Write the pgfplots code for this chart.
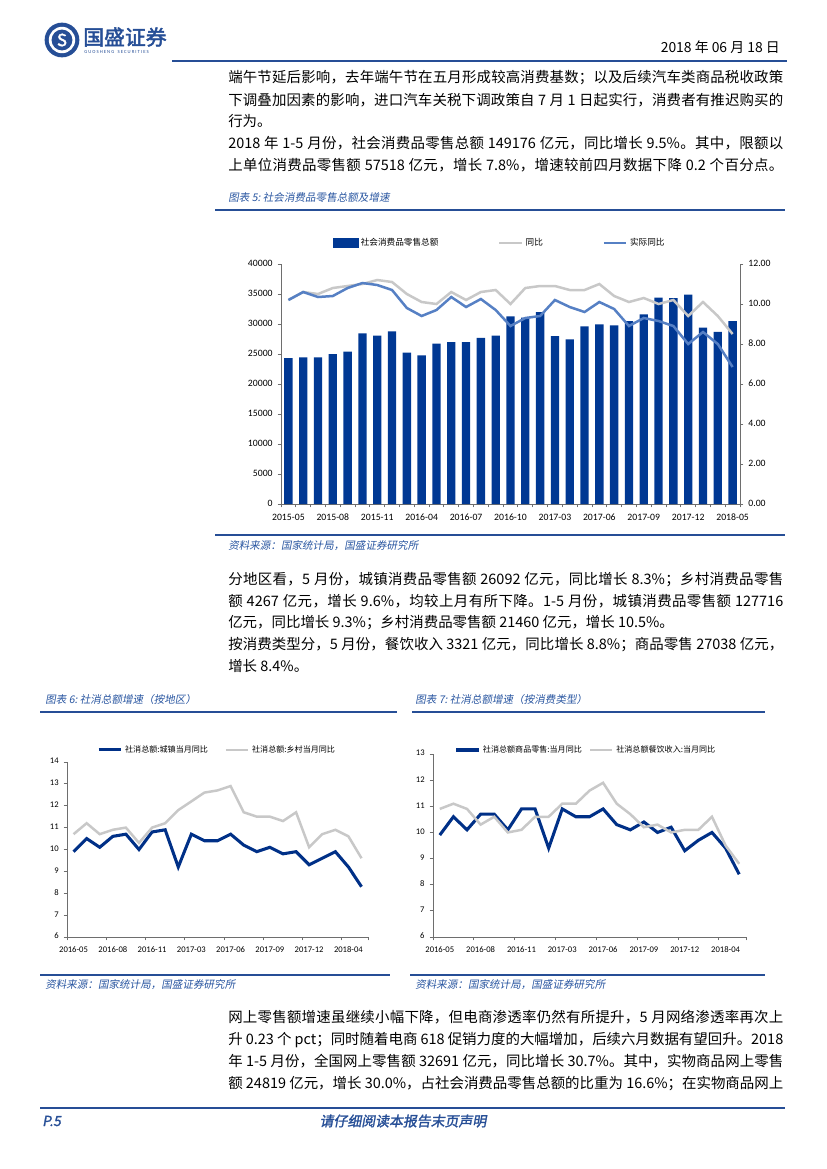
\documentclass[border=0pt]{standalone}
\usepackage{fontspec}
\setmainfont{Noto Sans CJK SC}
\newfontfamily\numfont{Carlito}
\newfontfamily\kai[FakeSlant=0.18]{Noto Sans CJK SC}
\newfontfamily\kaib[FakeSlant=0.18,FakeBold=1.6]{Noto Sans CJK SC}
\newfontfamily\logofont[FakeBold=2.2]{Noto Sans CJK SC}
\usepackage{pgfplots}
\pgfplotsset{compat=1.18}

% a little stretchable glue between CJK characters, for justified lines
\newcount\cc
\cc="4E00 \loop \XeTeXcharclass\cc=1 \advance\cc by 1 \ifnum\cc<"A000 \repeat
\cc="3000 \loop \XeTeXcharclass\cc=3 \advance\cc by 1 \ifnum\cc<"3040 \repeat
\cc="FF00 \loop \XeTeXcharclass\cc=3 \advance\cc by 1 \ifnum\cc<"FF60 \repeat
\XeTeXinterchartokenstate=1
\newcommand\cjkglue{\hskip0pt plus 0.6pt\relax}
\XeTeXinterchartoks 1 1 = {\cjkglue}
\XeTeXinterchartoks 1 3 = {\cjkglue}
\XeTeXinterchartoks 3 1 = {\cjkglue}
\XeTeXinterchartoks 0 1 = {\cjkglue}
\XeTeXinterchartoks 1 0 = {\cjkglue}
\XeTeXinterchartoks 3 0 = {\cjkglue}
\XeTeXinterchartoks 0 3 = {\cjkglue}

\definecolor{bardark}{RGB}{0,56,147}
\definecolor{lgrey}{RGB}{200,200,200}
\definecolor{realblue}{RGB}{86,128,196}
\definecolor{navy}{RGB}{0,48,135}
\definecolor{rule}{RGB}{38,78,150}
\definecolor{capt}{RGB}{40,85,160}
\definecolor{axgrey}{RGB}{110,110,110}

\newcommand\bodyf{\fontsize{10.4}{12}\selectfont}
\newcommand\fline[2]{\node[anchor=base west,inner sep=0pt] at (228,#1+5) {\bodyf\hbox to 399.5pt{#2}};}
\newcommand\lline[2]{\node[anchor=base west,inner sep=0pt] at (228,#1+5) {\bodyf #2};}
\newcommand\captn[3]{\node[anchor=base west,inner sep=0pt,text=capt] at (#1,#2+3.5) {\kai\fontsize{7.6}{8}\selectfont #3};}

\pgfplotsset{
  pg/.style={scale only axis, clip=false, anchor=south west,
    axis line style={axgrey,line width=0.6pt},
    every tick/.style={axgrey,line width=0.6pt},
    tick align=outside, major tick length=2.5pt,
    tick label style={font=\numfont\fontsize{7}{8}\selectfont},
    typeset ticklabels with strut,
    scaled ticks=false,
    /pgf/number format/assume math mode=true,
    /pgf/number format/1000 sep={},
    legend style={draw=none, fill=none, font=\fontsize{6.2}{7}\selectfont,
      inner sep=0pt, outer sep=0pt},
    legend cell align=left,
    legend image code/.code={\draw[##1] (0pt,0pt) -- (16pt,0pt);},
  },
}

\begin{document}
\begin{tikzpicture}[x=0.7198pt,y=-0.7198pt]
\useasboundingbox (0,0) rectangle (827,1169);

% header
\fill[rule] (62,40) circle (12.5pt);
\fill[white] (62,40) circle (9.5pt);
\fill[rule] (62,40) circle (7.5pt);
\node[white,inner sep=0pt] at (62,40) {\logofont\fontsize{12}{12}\selectfont S};
\node[anchor=west,inner sep=0pt,text=rule] at (83,37) {\logofont\fontsize{15}{15}\selectfont 国盛证券};
\node[anchor=west,inner sep=0pt,text=rule] at (84,52) {\numfont\fontsize{3.4}{4}\selectfont G U O S H E N G \ \ S E C U R I T I E S};
\node[anchor=east,inner sep=0pt] at (780,47) {\fontsize{10}{11}\selectfont 2018 年 06 月 18 日};
\draw[rule,line width=1.2pt] (172,61) -- (787,61);

% text
\fline{77}{端午节延后影响，去年端午节在五月形成较高消费基数；以及后续汽车类商品税收政策}
\fline{100}{下调叠加因素的影响，进口汽车关税下调政策自 7 月 1 日起实行，消费者有推迟购买的}
\lline{121}{行为。}
\fline{143}{2018 年 1-5 月份，社会消费品零售总额 149176 亿元，同比增长 9.5\%。其中，限额以}
\fline{165}{上单位消费品零售额 57518 亿元，增长 7.8\%，增速较前四月数据下降 0.2 个百分点。}

% figure 5
\captn{228}{198}{图表 5:\ 社会消费品零售总额及增速}
\draw[rule,line width=1.1pt] (215,210) -- (785,210);

\begin{scope}[x=1pt,y=1pt]
\begin{axis}[pg, at={(202.26pt,-362.78pt)}, width=330.4pt, height=172.75pt,
  xmin=-0.5, xmax=30.5, ymin=0, ymax=40000, ytick={0,5000,...,40000},
  axis x line*=bottom, axis y line*=left,
  xtick={-0.5,0.5,...,30.5}, xticklabels={},
  extra x ticks={0,3,...,30},
  extra x tick labels={2015-05,2015-08,2015-11,2016-04,2016-07,2016-10,2017-03,2017-06,2017-09,2017-12,2018-05},
  extra x tick style={tick style={draw=none}}]
\addplot[ybar, bar width=6pt, fill=bardark, draw=none]
  table[row sep=\\, x expr=\coordindex, y=v] {v\\
  24300\\ 24450\\ 24450\\ 25000\\ 25400\\ 28450\\ 28050\\ 28780\\ 25220\\ 24780\\
  26720\\ 27000\\ 27000\\ 27670\\ 28050\\ 31280\\ 31060\\ 32000\\ 28000\\ 27440\\
  29600\\ 29950\\ 29780\\ 30500\\ 31600\\ 34400\\ 34300\\ 34900\\ 29400\\ 28700\\
  30500\\};
\end{axis}

\begin{axis}[pg, at={(202.26pt,-362.78pt)}, width=330.4pt, height=172.75pt,
  xmin=-0.5, xmax=30.5, ymin=0, ymax=12, ytick={0,2,...,12},
  axis x line=none, axis y line*=right,
  yticklabel style={/pgf/number format/.cd,fixed,fixed zerofill,precision=2},
  legend columns=3,
  legend style={at={(0.477,1.0875)}, anchor=center,
    /tikz/every even column/.append style={column sep=41pt}}]
\addlegendimage{legend image code/.code={\fill[bardark] (0pt,-3.2pt) rectangle (18pt,3.2pt);}}
\addlegendentry{社会消费品零售总额}
\addplot[lgrey, line width=1.8pt]
  table[row sep=\\, x expr=\coordindex, y=v] {v\\
  10.2\\ 10.6\\ 10.5\\ 10.8\\ 10.9\\ 11.0\\ 11.2\\ 11.1\\ 10.5\\ 10.1\\
  10.0\\ 10.6\\ 10.2\\ 10.6\\ 10.7\\ 10.0\\ 10.8\\ 10.9\\ 10.9\\ 10.7\\
  10.7\\ 11.0\\ 10.4\\ 10.1\\ 10.3\\ 10.0\\ 10.2\\ 9.4\\ 10.1\\ 9.4\\
  8.5\\};
\addlegendentry{同比}
\addplot[realblue, line width=1.8pt]
  table[row sep=\\, x expr=\coordindex, y=v] {v\\
  10.2\\ 10.6\\ 10.35\\ 10.4\\ 10.8\\ 11.05\\ 10.95\\ 10.7\\ 9.8\\ 9.4\\
  9.7\\ 10.35\\ 9.85\\ 10.25\\ 9.7\\ 8.9\\ 9.3\\ 9.4\\ 10.2\\ 9.85\\
  9.6\\ 10.1\\ 9.75\\ 8.9\\ 9.3\\ 9.15\\ 8.9\\ 8.0\\ 8.6\\ 8.0\\
  6.85\\};
\addlegendentry{实际同比}
\end{axis}
\end{scope}

\draw[rule,line width=1.1pt] (215,535) -- (785,535);
\captn{228}{546}{资料来源：国家统计局，国盛证券研究所}

% text 2
\fline{579}{分地区看，5 月份，城镇消费品零售额 26092 亿元，同比增长 8.3\%；乡村消费品零售}
\fline{601}{额 4267 亿元，增长 9.6\%，均较上月有所下降。1-5 月份，城镇消费品零售额 127716}
\lline{622}{亿元，同比增长 9.3\%；乡村消费品零售额 21460 亿元，增长 10.5\%。}
\fline{644}{按消费类型分，5 月份，餐饮收入 3321 亿元，同比增长 8.8\%；商品零售 27038 亿元，}
\lline{666}{增长 8.4\%。}

% figure 6
\captn{45}{700}{图表 6:\ 社消总额增速（按地区）}
\draw[rule,line width=1.1pt] (40,712) -- (397,712);
\begin{scope}[x=1pt,y=1pt]
\begin{axis}[pg, at={(48.23pt,-674.45pt)}, width=216.7pt, height=126pt,
  xmin=-0.5, xmax=22.5, ymin=6, ymax=14, ytick={6,7,...,14},
  axis x line*=bottom, axis y line*=left,
  tick label style={font=\numfont\fontsize{6.2}{7}\selectfont},
  xtick={-0.5,2.5,5.5,8.5,11.5,14.5,17.5,20.5,22.5}, xticklabels={},
  extra x ticks={0,3,...,21},
  extra x tick labels={2016-05,2016-08,2016-11,2017-03,2017-06,2017-09,2017-12,2018-04},
  extra x tick style={tick style={draw=none}},
  legend columns=2,
  legend style={at={(0.10,1.069)}, anchor=west, font=\fontsize{5.8}{7}\selectfont,
    /tikz/every even column/.append style={column sep=10pt}}]
\addplot[navy, line width=2.2pt]
  table[row sep=\\, x expr=\coordindex, y=v] {v\\
  9.9\\ 10.5\\ 10.1\\ 10.6\\ 10.7\\ 10.0\\ 10.8\\ 10.9\\ 9.2\\ 10.7\\
  10.4\\ 10.4\\ 10.7\\ 10.2\\ 9.9\\ 10.1\\ 9.8\\ 9.9\\ 9.3\\ 9.6\\
  9.9\\ 9.2\\ 8.3\\};
\addlegendentry{社消总额:城镇当月同比}
\addplot[lgrey, line width=1.8pt]
  table[row sep=\\, x expr=\coordindex, y=v] {v\\
  10.7\\ 11.2\\ 10.7\\ 10.9\\ 11.0\\ 10.3\\ 11.0\\ 11.2\\ 11.8\\ 12.2\\
  12.6\\ 12.7\\ 12.9\\ 11.7\\ 11.5\\ 11.5\\ 11.3\\ 11.7\\ 10.1\\ 10.7\\
  10.9\\ 10.6\\ 9.6\\};
\addlegendentry{社消总额:乡村当月同比}
\end{axis}
\end{scope}
\draw[rule,line width=1.1pt] (40,975) -- (390,975);
\captn{45}{985}{资料来源：国家统计局，国盛证券研究所}

% figure 7
\captn{415}{700}{图表 7:\ 社消总额增速（按消费类型）}
\draw[rule,line width=1.1pt] (412,712) -- (765,712);
\begin{scope}[x=1pt,y=1pt]
\begin{axis}[pg, at={(311.67pt,-674.45pt)}, width=225.3pt, height=131.7pt,
  xmin=-0.5, xmax=22.5, ymin=6, ymax=13, ytick={6,7,...,13},
  axis x line*=bottom, axis y line*=left,
  tick label style={font=\numfont\fontsize{6.2}{7}\selectfont},
  xtick={-0.5,2.5,5.5,8.5,11.5,14.5,17.5,20.5,22.5}, xticklabels={},
  extra x ticks={0,3,...,21},
  extra x tick labels={2016-05,2016-08,2016-11,2017-03,2017-06,2017-09,2017-12,2018-04},
  extra x tick style={tick style={draw=none}},
  legend columns=2,
  legend style={at={(0.07,1.022)}, anchor=west, font=\fontsize{5.8}{7}\selectfont,
    /tikz/every even column/.append style={column sep=3pt}}]
\addplot[navy, line width=2.2pt]
  table[row sep=\\, x expr=\coordindex, y=v] {v\\
  9.9\\ 10.6\\ 10.1\\ 10.7\\ 10.7\\ 10.1\\ 10.9\\ 10.9\\ 9.4\\ 10.9\\
  10.6\\ 10.6\\ 10.9\\ 10.3\\ 10.1\\ 10.4\\ 10.0\\ 10.2\\ 9.3\\ 9.7\\
  10.0\\ 9.4\\ 8.4\\};
\addlegendentry{社消总额商品零售:当月同比}
\addplot[lgrey, line width=1.8pt]
  table[row sep=\\, x expr=\coordindex, y=v] {v\\
  10.9\\ 11.1\\ 10.9\\ 10.3\\ 10.6\\ 10.0\\ 10.1\\ 10.6\\ 10.6\\ 11.1\\
  11.1\\ 11.6\\ 11.9\\ 11.1\\ 10.7\\ 10.2\\ 10.3\\ 10.0\\ 10.1\\ 10.1\\
  10.6\\ 9.5\\ 8.8\\};
\addlegendentry{社消总额餐饮收入:当月同比}
\end{axis}
\end{scope}
\draw[rule,line width=1.1pt] (410,975) -- (765,975);
\captn{415}{985}{资料来源：国家统计局，国盛证券研究所}

% text 3
\fline{1017}{网上零售额增速虽继续小幅下降，但电商渗透率仍然有所提升，5 月网络渗透率再次上}
\fline{1039}{升 0.23 个 pct；同时随着电商 618 促销力度的大幅增加，后续六月数据有望回升。2018}
\fline{1061}{年 1-5 月份，全国网上零售额 32691 亿元，同比增长 30.7\%。其中，实物商品网上零售}
\fline{1083}{额 24819 亿元，增长 30.0\%，占社会消费品零售总额的比重为 16.6\%；在实物商品网上}

% footer
\draw[rule,line width=1.1pt] (40,1108) -- (785,1108);
\node[anchor=west,inner sep=0pt,text=rule] at (42,1121) {\kaib\fontsize{10}{11}\selectfont P.5};
\node[inner sep=0pt,text=rule] at (403,1121) {\kaib\fontsize{10}{11}\selectfont 请仔细阅读本报告末页声明};
\end{tikzpicture}
\end{document}
